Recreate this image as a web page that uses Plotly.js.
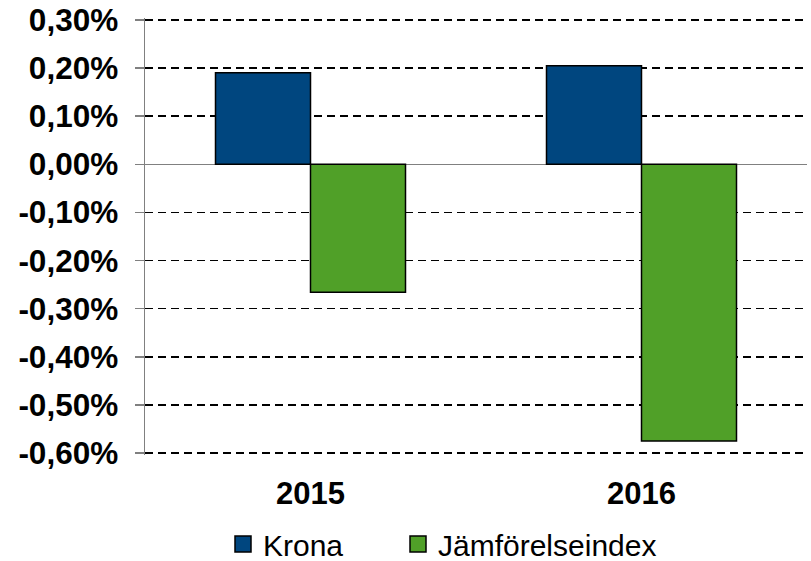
<!DOCTYPE html>
<html>
<head>
<meta charset="utf-8">
<script src="https://cdn.plot.ly/plotly-3.0.1.min.js"></script>
<style>html,body{margin:0;padding:0;background:#fff;}#chart{width:811px;height:561px;}</style>
</head>
<body>
<div id="chart"></div>
<script>
var categories = ['2015', '2016'];
var kronaValues = [0.0019, 0.00205];
var jamforValues = [-0.00266, -0.00575];
var seriesNames = ['Krona', 'Jämförelseindex'];
var seriesColors = ['#00467F', '#50A028'];
var yTickVals = [0.003, 0.002, 0.001, 0, -0.001, -0.002, -0.003, -0.004, -0.005, -0.006];
var yTickText = yTickVals.map(function (v) {
  return (v * 100).toFixed(2).replace('.', ',') + '%';
});

var traces = [
  {type: 'bar', name: seriesNames[0], x: categories, y: kronaValues, showlegend: false,
   marker: {color: seriesColors[0], line: {color: '#000000', width: 1.5}}},
  {type: 'bar', name: seriesNames[1], x: categories, y: jamforValues, showlegend: false,
   marker: {color: seriesColors[1], line: {color: '#000000', width: 1.5}}},
  {type: 'scatter', mode: 'markers', name: seriesNames[0], x: [categories[0]], y: [null],
   legendwidth: 130, hoverinfo: 'skip',
   marker: {symbol: 'square', size: 16, color: seriesColors[0], line: {color: '#000000', width: 1.5}}},
  {type: 'scatter', mode: 'markers', name: seriesNames[1], x: [categories[0]], y: [null],
   hoverinfo: 'skip',
   marker: {symbol: 'square', size: 16, color: seriesColors[1], line: {color: '#000000', width: 1.5}}}
];

var layout = {
  width: 811, height: 561,
  margin: {l: 145, r: 4, t: 18, b: 106},
  paper_bgcolor: '#ffffff', plot_bgcolor: '#ffffff',
  barmode: 'group',
  bargap: 0.426, bargroupgap: 0,
  font: {family: 'Liberation Sans, Arial, sans-serif', color: '#000000'},
  showlegend: true,
  legend: {orientation: 'h', xref: 'container', yref: 'container',
           x: 223 / 811, xanchor: 'left', y: 17 / 561, yanchor: 'middle',
           font: {size: 30, color: '#000000'}, itemwidth: 30, traceorder: 'normal',
           itemsizing: 'trace'},
  xaxis: {type: 'category', showgrid: false, zeroline: false, showline: false,
          ticks: '', ticklabelstandoff: 17, automargin: false,
          tickfont: {size: 31, weight: 'bold', color: '#000000'}},
  yaxis: {range: [-0.00604, 0.00304], tickvals: yTickVals, ticktext: yTickText,
          showgrid: true, gridcolor: '#000000', griddash: '8px,5px', gridwidth: 1.5,
          zeroline: true, zerolinecolor: '#808080', zerolinewidth: 1.5,
          showline: true, linecolor: '#808080', linewidth: 1.5,
          ticks: 'outside', ticklen: 9, tickcolor: '#808080', tickwidth: 1.5,
          ticklabelstandoff: 10, automargin: false,
          tickfont: {size: 31.5, weight: 'bold', color: '#000000'}}
};

Plotly.newPlot('chart', traces, layout, {displayModeBar: false, staticPlot: true});
</script>
</body>
</html>
